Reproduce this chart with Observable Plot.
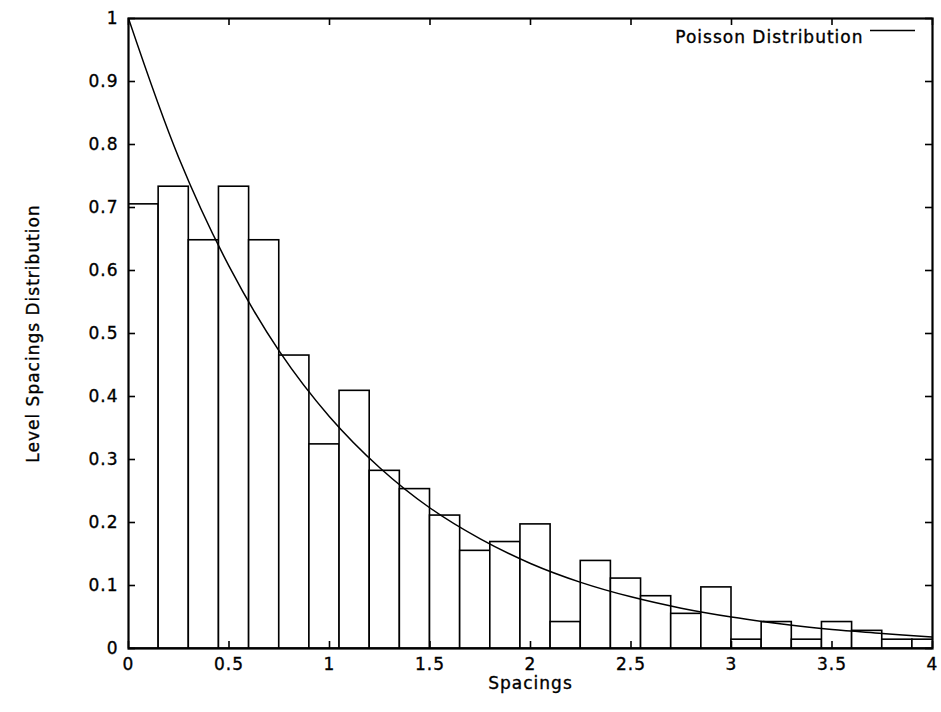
<!DOCTYPE html>
<html>
<head>
<meta charset="utf-8">
<script src="https://cdn.jsdelivr.net/npm/d3@7"></script>
<script src="https://cdn.jsdelivr.net/npm/@observablehq/plot@0.6"></script>
<style>
  html, body { margin: 0; padding: 0; background: #fff; }
  svg text { font-family: "DejaVu Sans", "Liberation Sans", sans-serif; stroke: #000; stroke-width: 0.35px; letter-spacing: 1px; }
</style>
</head>
<body>
<div id="chart"></div>
<script>
// Histogram bins (left edge, right edge) and heights
const binLeft  = [0.00, 0.15, 0.30, 0.45, 0.60, 0.75, 0.90, 1.05, 1.20, 1.35, 1.50, 1.65, 1.80, 1.95,
                  2.10, 2.25, 2.40, 2.55, 2.70, 2.85, 3.00, 3.15, 3.30, 3.45, 3.60, 3.75, 3.90];
const binRight = [0.15, 0.30, 0.45, 0.60, 0.75, 0.90, 1.05, 1.20, 1.35, 1.50, 1.65, 1.80, 1.95, 2.10,
                  2.25, 2.40, 2.55, 2.70, 2.85, 3.00, 3.15, 3.30, 3.45, 3.60, 3.75, 3.90, 4.05];
const binHeight = [0.705, 0.733, 0.648, 0.733, 0.648, 0.465, 0.324, 0.409, 0.282, 0.253, 0.211, 0.155, 0.169, 0.197,
                   0.042, 0.139, 0.111, 0.083, 0.055, 0.097, 0.014, 0.042, 0.014, 0.042, 0.028, 0.014, 0.014];

// Poisson distribution curve
const curveS = [0, 0.25, 0.5, 0.75, 1, 1.25, 1.5, 1.75, 2, 2.25, 2.5, 2.75, 3, 3.25, 3.5, 3.75, 4];
const curveP = [1.0, 0.779, 0.607, 0.472, 0.368, 0.287, 0.223, 0.174, 0.135, 0.105, 0.082, 0.064, 0.050, 0.039, 0.030, 0.024, 0.018];

// Tick values and labels
const xTicks = [0, 0.5, 1, 1.5, 2, 2.5, 3, 3.5, 4];
const xTickLabels = ["0", "0.5", "1", "1.5", "2", "2.5", "3", "3.5", "4"];
const yTicks = [0, 0.1, 0.2, 0.3, 0.4, 0.5, 0.6, 0.7, 0.8, 0.9, 1];
const yTickLabels = ["0", "0.1", "0.2", "0.3", "0.4", "0.5", "0.6", "0.7", "0.8", "0.9", "1"];

const xLabel = "Spacings";
const yLabel = "Level Spacings Distribution";
const legendLabel = "Poisson Distribution";

const bins = binLeft.map((l, i) => ({x1: l, x2: binRight[i], y: binHeight[i]}));
const curve = curveS.map((s, i) => ({s, p: curveP[i]}));
const xt = xTicks.map((v, i) => ({v, t: xTickLabels[i]}));
const yt = yTicks.map((v, i) => ({v, t: yTickLabels[i]}));

const W = 941, H = 712;
const mL = 128, mR = 9, mT = 18, mB = 64;
const innerW = W - mL - mR, innerH = H - mT - mB;
const tick = 7;
const fs = 17;

const chart = Plot.plot({
  width: W,
  height: H,
  marginLeft: mL,
  marginRight: mR,
  marginTop: mT,
  marginBottom: mB,
  x: {domain: [0, 4], axis: null},
  y: {domain: [0, 1], axis: null},
  style: {fontFamily: "DejaVu Sans, sans-serif", fontSize: fs + "px", color: "#000", background: "#fff"},
  marks: [
    Plot.rectY(bins, {x1: "x1", x2: "x2", y1: 0, y2: "y", fill: "white", stroke: "black", strokeWidth: 1.6, clip: true}),
    Plot.line(curve, {x: "s", y: "p", curve: "catmull-rom", stroke: "black", strokeWidth: 1.5, clip: true}),
    // inward ticks on all four sides
    Plot.ruleX(xt, {x: "v", insetTop: innerH - tick, stroke: "black", strokeWidth: 1.6}),
    Plot.ruleX(xt, {x: "v", insetBottom: innerH - tick, stroke: "black", strokeWidth: 1.6}),
    Plot.ruleY(yt, {y: "v", insetRight: innerW - tick, stroke: "black", strokeWidth: 1.6}),
    Plot.ruleY(yt, {y: "v", insetLeft: innerW - tick, stroke: "black", strokeWidth: 1.6}),
    Plot.frame({stroke: "black", strokeWidth: 2.2}),
    // tick labels
    Plot.text(xt, {x: "v", text: "t", frameAnchor: "bottom", dy: 21, fontSize: fs, fill: "black"}),
    Plot.text(yt, {y: "v", text: "t", frameAnchor: "left", dx: -10, textAnchor: "end", fontSize: fs, fill: "black"}),
    // axis labels
    Plot.text([xLabel], {frameAnchor: "bottom", dy: 40, textAnchor: "middle", fontSize: fs, fill: "black"}),
    Plot.text([yLabel], {frameAnchor: "left", dx: -95, rotate: -90, textAnchor: "middle", fontSize: fs, fill: "black"}),
    // legend
    Plot.text([legendLabel], {frameAnchor: "top-right", dx: -69, dy: 12, textAnchor: "end", fontSize: fs, fill: "black"}),
    Plot.ruleY([1], {insetLeft: innerW - 62, insetRight: 17, dy: 12, stroke: "black", strokeWidth: 1.5})
  ]
});

document.getElementById("chart").appendChild(chart);
</script>
</body>
</html>
